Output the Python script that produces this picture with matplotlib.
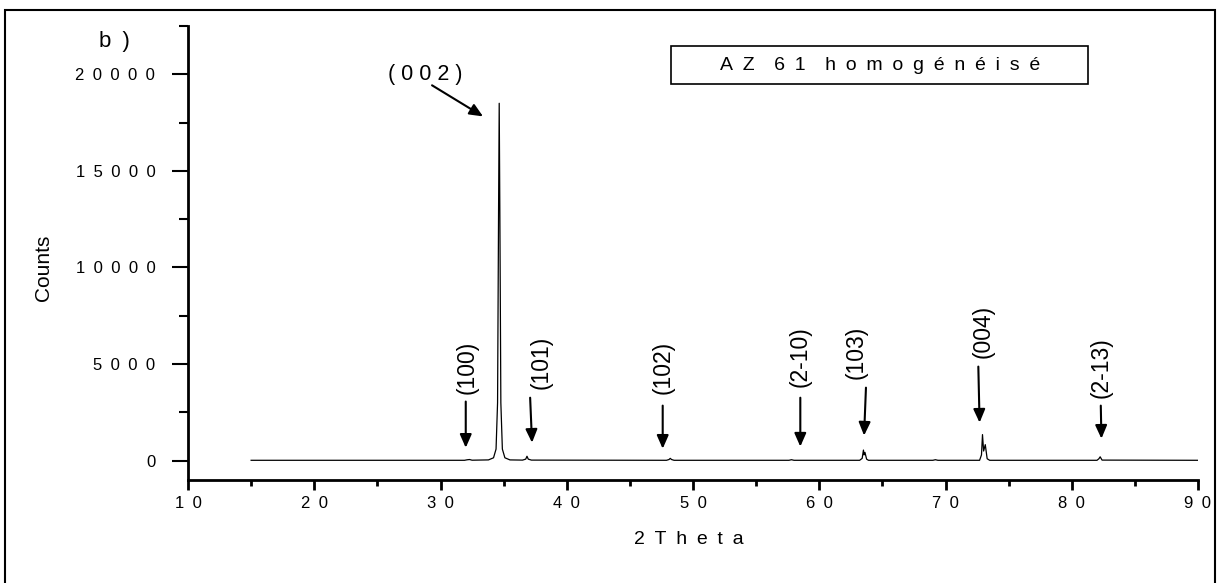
"""
XRD pattern of homogenised AZ61 with the indexed Mg reflections.
Writes out.png.
"""

import matplotlib.pyplot as plt
import matplotlib.patches as patches
from matplotlib.ticker import FuncFormatter, MultipleLocator

plt.rcParams["font.family"] = ["Liberation Sans", "DejaVu Sans"]

SP = "\u2002"   # wide gap used for the letter-spaced labels

# ── Diffractogram (2θ in degrees, intensity in counts) ───────────────────────
two_theta = [15.0, 31.9, 32.1, 32.3, 32.5,
             33.8, 34.2, 34.4, 34.52, 34.6, 34.65, 34.7, 34.78, 34.9, 35.1, 35.5,
             36.5, 36.75, 36.85, 36.95, 37.2,
             47.9, 48.1, 48.2, 48.3, 48.5,
             57.6, 57.8, 58.0,
             63.2, 63.4, 63.5, 63.55, 63.62, 63.75, 63.9,
             69.0, 69.2, 69.4,
             72.7, 72.85, 72.93, 73.02, 73.15, 73.3, 73.5,
             82.0, 82.15, 82.25, 82.4,
             90.0]
counts = [20, 20, 45, 60, 25,
          40, 150, 600, 3000, 13000, 18500, 13000, 3000, 600, 150, 40,
          30, 80, 230, 80, 30,
          20, 60, 120, 60, 20,
          20, 50, 20,
          20, 120, 550, 300, 430, 80, 20,
          20, 50, 20,
          20, 300, 1350, 500, 830, 100, 20,
          20, 100, 200, 30,
          20]

# ── Indexed reflections ───────────────────────────────────────────────────────
hkl_labels = ["(100)", "(101)", "(102)", "(2-10)", "(103)", "(004)", "(2-13)"]
label_x    = [32.1, 38.0, 47.6, 58.5, 62.9, 73.0, 82.3]
label_y    = [4820, 5080, 4820, 5390, 5600, 6680, 4820]
arrow_x0   = [32.0, 37.1, 47.6, 58.5, 63.7, 72.6, 82.3]
arrow_y0   = [3060, 3260, 2850, 3260, 3780, 4870, 2850]
arrow_x1   = [32.0, 37.25, 47.6, 58.5, 63.55, 72.7, 82.35]
arrow_y1   = [670, 930, 620, 730, 1300, 1970, 1140]

ARROW = dict(arrowstyle="-|>,head_length=0.5,head_width=0.22",
             mutation_scale=16, lw=1.5, color="black", shrinkA=0, shrinkB=0)


def spaced(v, pos=None):
    return SP.join(str(int(round(v))))


fig = plt.figure(figsize=(12.18, 5.83), dpi=100)
ax = fig.add_axes([188 / 1218, 103 / 583, 1010 / 1218, 454 / 583])

ax.plot(two_theta, counts, color="black", lw=0.9)

ax.set_xlim(10, 90)
ax.set_ylim(-1000, 22500)
for side in ("top", "right"):
    ax.spines[side].set_visible(False)
for side in ("left", "bottom"):
    ax.spines[side].set_linewidth(2)

ax.xaxis.set_major_locator(MultipleLocator(10))
ax.xaxis.set_minor_locator(MultipleLocator(5))
ax.yaxis.set_major_locator(MultipleLocator(5000))
ax.yaxis.set_minor_locator(MultipleLocator(2500))
ax.xaxis.set_major_formatter(FuncFormatter(spaced))
ax.yaxis.set_major_formatter(FuncFormatter(spaced))
ax.tick_params(axis="x", which="major", length=7.5, width=2, pad=4, labelsize=12)
ax.tick_params(axis="x", which="minor", length=4, width=2)
ax.tick_params(axis="y", which="major", length=11.5, width=1.5, pad=12, labelsize=12)
ax.tick_params(axis="y", which="minor", length=6.5, width=1.5)

# strong basal reflection
ax.annotate("", xy=(33.37, 17820), xytext=(29.33, 19430), arrowprops=ARROW)
ax.text(28.77, 20000, " ".join("(002)"), fontsize=15.5, ha="center", va="center")

for lab, tx, ty, x0, y0, x1, y1 in zip(hkl_labels, label_x, label_y,
                                       arrow_x0, arrow_y0, arrow_x1, arrow_y1):
    ax.annotate("", xy=(x1, y1), xytext=(x0, y0), arrowprops=ARROW)
    ax.text(tx, ty, lab, fontsize=16.5, rotation=90, ha="center", va="center")

# sample name box
ax.add_patch(patches.Rectangle((48.26, 19480), 33.03, 1970, fill=False,
                               lw=1.2, edgecolor="black"))
ax.text(64.8, 20466, f"A{SP}Z{SP}{SP}6{SP}1{SP}{SP}" + SP.join("homogénéisé"),
        fontsize=14, ha="center", va="center")

fig.text(114 / 1218, 1 - 41 / 583, f"b{SP})", fontsize=16, ha="center", va="center")
fig.text(44 / 1218, 1 - 268 / 583, "Counts", fontsize=15, rotation=90,
         ha="center", va="center")
fig.text(689 / 1218, 1 - 540 / 583, f"2{SP}T{SP}h{SP}e{SP}t{SP}a", fontsize=14,
         ha="center", va="center")

# outer frame
fig.add_artist(patches.Rectangle((5 / 1218, -0.05), 1210 / 1218, 1.05 - 9.5 / 583,
                                 transform=fig.transFigure, fill=False,
                                 lw=1.5, edgecolor="black"))

fig.savefig("out.png", dpi=100)
